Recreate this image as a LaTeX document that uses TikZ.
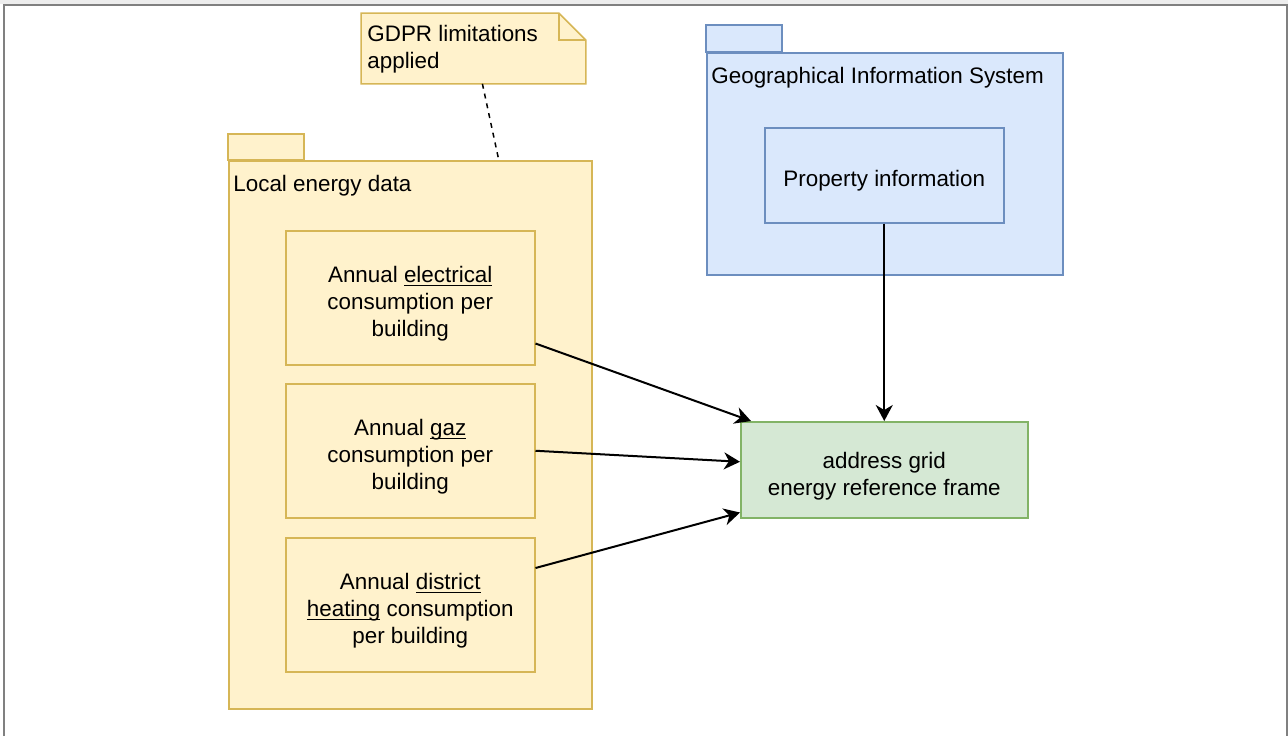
\documentclass[tikz,border=0pt]{standalone}
\usepackage{fontspec}
\setmainfont{Liberation Sans}
\usetikzlibrary{calc,positioning,arrows.meta}

\definecolor{noteyellow}{HTML}{FFF2CC}
\definecolor{noteedge}{HTML}{D6B656}
\definecolor{gisblue}{HTML}{DAE8FC}
\definecolor{gisedge}{HTML}{6C8EBF}
\definecolor{refgreen}{HTML}{D5E8D4}
\definecolor{refedge}{HTML}{82B366}
\definecolor{framegray}{HTML}{808080}

\newcommand{\uword}[1]{\underline{\smash{#1}}}

\tikzset{
  yellowbox/.style={draw=noteedge, fill=noteyellow, line width=0.75pt},
  bluebox/.style={draw=gisedge, fill=gisblue, line width=0.75pt},
  databox/.style={yellowbox, anchor=north west, minimum width=124.5pt, minimum height=67pt, inner sep=0pt},
  boxtext/.style={align=center, inner sep=0pt},
  pkglabel/.style={anchor=base west, inner sep=0pt},
  flow/.style={-{Stealth[length=8pt,width=8.5pt,inset=2.5pt]}, line width=1pt},
}

\begin{document}
\begin{tikzpicture}[x=0.5pt,y=-0.5pt,font=\fontsize{11.2}{13.5}\selectfont]
	%\draw[color=gray,step=50, help lines,opacity=0.3] (0,0) grid (1288,736); %help grid
	\useasboundingbox (0,0) rectangle (1288,736);
	% window frame
	\fill[black!7] (0,0) rectangle (1288,4);
	\draw[framegray, line width=1pt] (4,736) -- (4,5) -- (1287,5) -- (1287,736);

	% GDPR note
	\node[anchor=north west, minimum width=112pt, minimum height=35pt, inner sep=0pt] (gdpr) at (361,13) {};
	\draw[yellowbox] (gdpr.north west) -- ([xshift=-13.5pt]gdpr.north east) -- ([yshift=-13.5pt]gdpr.north east)
		-- (gdpr.south east) -- (gdpr.south west) -- cycle;
	\draw[noteedge, line width=0.75pt] ([xshift=-13.5pt]gdpr.north east) -- ++(0,-13.5pt) -- ([yshift=-13.5pt]gdpr.north east);
	\node[anchor=north west, align=left, inner sep=0pt] (gdprtext) at (367,25) {GDPR limitations\\applied};

	% local energy data package
	\draw[yellowbox] (228,134) rectangle (304,160);
	\node[yellowbox, anchor=north west, minimum width=181.5pt, minimum height=274pt, inner sep=0pt] (led) at (228,160) {};
	\node[pkglabel] (ledlabel) at (233,191) {Local energy data};
	\node[databox] (elec) at (285,230) {};
	\node[boxtext] (electext) at ([yshift=-3pt]elec.center) {Annual \uword{electrical}\\consumption per\\building};
	\node[databox] (gaz) at (285,383) {};
	\node[boxtext] (gaztext) at ([yshift=-3pt]gaz.center) {Annual \uword{gaz}\\consumption per\\building};
	\node[databox] (heat) at (285,537) {};
	\node[boxtext] (heattext) at ([yshift=-3pt]heat.center) {Annual \uword{district}\\\uword{heating} consumption\\per building};
	\draw[line width=0.75pt, dash pattern=on 2.5pt off 2.5pt] ([xshift=4.5pt]gdpr.south) -- ([xshift=44.25pt]led.north);

	% GIS package
	\draw[bluebox] (706,25) rectangle (782,52);
	\node[bluebox, anchor=north west, minimum width=178pt, minimum height=111pt, inner sep=0pt] (gis) at (706,52) {};
	\node[pkglabel] (gislabel) at (711,83) {Geographical Information System};
	\node[bluebox, anchor=north west, minimum width=119.5pt, minimum height=47.5pt, inner sep=0pt] (prop) at (764,127) {};
	\node[boxtext] (proptext) at ([yshift=-2.5pt]prop.center) {Property information};

	% reference frame
	\node[draw=refedge, fill=refgreen, line width=0.75pt, anchor=north west, minimum width=143.5pt, minimum height=48pt,
		inner sep=0pt] (frame) at (740,421) {};
	\node[boxtext] (frametext) at ([yshift=-3pt]frame.center) {address grid\\energy reference frame};

	% connectors
	\draw[flow] ([yshift=11pt]elec.south east) -- ([xshift=5.5pt]frame.north west);
	\draw[flow] (gaz.east) -- ([yshift=4pt]frame.west);
	\draw[flow] ([yshift=-15.5pt]heat.north east) -- ([yshift=3pt]frame.south west);
	\draw[flow] (prop.south) -- (frame.north);
\end{tikzpicture}
\end{document}
